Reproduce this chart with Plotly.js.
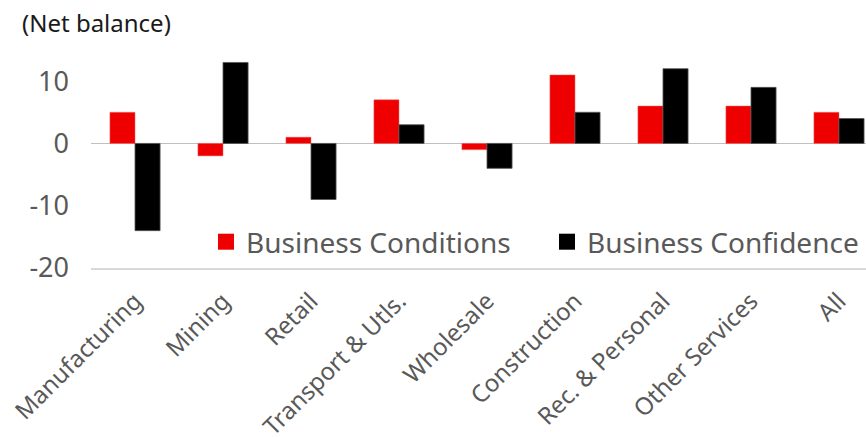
<!DOCTYPE html>
<html>
<head>
<meta charset="utf-8">
<script src="https://cdn.plot.ly/plotly-3.0.1.min.js"></script>
<style>html,body{margin:0;padding:0;background:#fff;}#chart{width:866px;height:437px;}</style>
</head>
<body>
<div id="chart"></div>
<script>
const categories = ["Manufacturing","Mining","Retail","Transport & Utls.","Wholesale","Construction","Rec. & Personal","Other Services","All"];
const businessConditions = [5, -2, 1, 7, -1, 11, 6, 6, 5];
const businessConfidence = [-14, 13, -9, 3, -4, 5, 12, 9, 4];
const seriesNames = ["Business Conditions", "Business Confidence"];
const yTicks = [-20, -10, 0, 10];

const FONT = "Noto Sans, sans-serif";
const RED = '#EE0000', BLACK = '#000000';
const traces = [
  {type:'bar', name:seriesNames[0], x:categories, y:businessConditions, showlegend:false,
   marker:{color:RED, line:{color:'#f06060', width:0.5}}},
  {type:'bar', name:seriesNames[1], x:categories, y:businessConfidence, showlegend:false,
   marker:{color:BLACK, line:{color:'#555555', width:0.8}}},
  // legend keys (no data points)
  {type:'scatter', mode:'markers', name:seriesNames[0], x:[categories[0]], y:[null], legend:'legend',
   marker:{symbol:'square', size:16, color:RED}, hoverinfo:'skip'},
  {type:'scatter', mode:'markers', name:seriesNames[1], x:[categories[0]], y:[null], legend:'legend2',
   marker:{symbol:'square', size:16, color:BLACK}, hoverinfo:'skip'}
];
const legendBase = {orientation:'h', xanchor:'left', yanchor:'middle', y:(268-242)/218,
  font:{family:FONT, size:28, color:'#595959'}, bgcolor:'rgba(0,0,0,0)', borderwidth:0, itemclick:false};
const layout = {
  width:866, height:437,
  margin:{l:91, r:0, t:50, b:169},
  paper_bgcolor:'#fff', plot_bgcolor:'#fff',
  barmode:'group', bargap:0.43, bargroupgap:0,
  font:{family:FONT, color:'#595959'},
  title:{text:'(Net balance)', xref:'container', yref:'container', x:22/866, xanchor:'left', y:1-24/437, yanchor:'middle',
         font:{family:FONT, size:24, color:'#1a1a1a'}},
  xaxis:{type:'category', range:[-0.5, 8.307], showgrid:false, zeroline:false,
         showline:true, linecolor:'#d9d9d9', linewidth:1.5, ticks:'',
         tickangle:-45, tickfont:{size:24, color:'#595959'}, automargin:false, ticklabelstandoff:8},
  yaxis:{range:[-20, 15], tickvals:yTicks, ticktext:yTicks.map(String), showgrid:false,
         zeroline:true, zerolinecolor:'#c0c0c0', zerolinewidth:1.5, showline:false, ticks:'',
         tickfont:{size:27, color:'#595959'}, ticklabelstandoff:21, automargin:false},
  showlegend:true,
  legend:Object.assign({}, legendBase, {x:(206-91)/775}),
  legend2:Object.assign({}, legendBase, {x:(547-91)/775})
};
Plotly.newPlot('chart', traces, layout, {staticPlot:true});
</script>
</body>
</html>
